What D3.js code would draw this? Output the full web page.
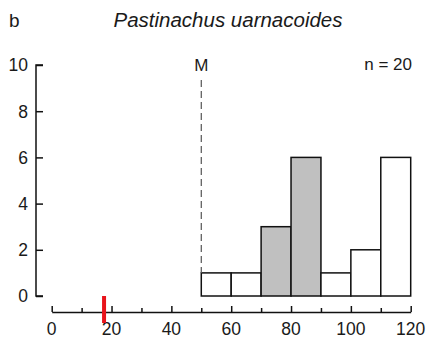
<!DOCTYPE html>
<html><head><meta charset="utf-8">
<script src="https://cdn.jsdelivr.net/npm/d3@7"></script>
<style>body{margin:0;background:#fff}svg{display:block}text{font-family:Arial,"Liberation Sans",sans-serif;fill:#1a1a1a}</style>
</head><body>
<script>
const binStarts = [50, 60, 70, 80, 90, 100, 110];
const counts = [1, 1, 3, 6, 1, 2, 6];
const shaded = [false, false, true, true, false, false, false];
const xTicks = [0, 20, 40, 60, 80, 100, 120];
const xMinorTicks = [10, 30, 50, 70, 90, 110];
const yTicks = [0, 2, 4, 6, 8, 10];
const maturity = 50;
const marker = 17.5;
const title = "Pastinachus uarnacoides";
const panel = "b";
const nLabel = "n = 20";

const W = 427, H = 340;
const svg = d3.select("body").append("svg").attr("width", W).attr("height", H);
const x = d3.scaleLinear().domain([0, 120]).range([51.7, 410.7]);
const y = d3.scaleLinear().domain([0, 10]).range([296, 65]);
const axisY = 312;

// bars
svg.selectAll("rect.bar").data(binStarts).join("rect")
  .attr("x", d => x(d)).attr("width", d => x(d + 10) - x(d))
  .attr("y", (d, i) => y(counts[i])).attr("height", (d, i) => y(0) - y(counts[i]))
  .attr("fill", (d, i) => shaded[i] ? "#c0c0c0" : "#fff")
  .attr("stroke", "#111").attr("stroke-width", 1.5);

// dashed M line
svg.append("line").attr("x1", x(maturity)).attr("x2", x(maturity))
  .attr("y1", 80).attr("y2", y(counts[0]))
  .attr("stroke", "#555").attr("stroke-width", 1.2).attr("stroke-dasharray", "7,4");
svg.append("text").attr("x", x(maturity)).attr("y", 71).attr("text-anchor", "middle")
  .style("font-size", "17px").text("M");

// y axis
const yAxis = d3.axisRight(y).tickValues(yTicks).tickSize(7).tickFormat("");
const gy = svg.append("g").attr("transform", "translate(36,0)").call(yAxis);
gy.select(".domain").attr("stroke", "#111").attr("stroke-width", 1.5).attr("d", `M7,${y(10)}H0V${y(0)}H7`);
gy.selectAll(".tick line").attr("stroke", "#111").attr("stroke-width", 1.5);
svg.selectAll("text.ylab").data(yTicks).join("text").attr("class", "ylab")
  .attr("x", 28).attr("y", d => y(d)).attr("dy", "0.36em").attr("text-anchor", "end")
  .style("font-size", "17.5px").text(d => d);

// x axis
const gx = svg.append("g").attr("transform", `translate(0,${axisY})`)
  .call(d3.axisTop(x).tickValues(xTicks).tickSize(6).tickSizeOuter(0).tickFormat(""));
gx.select(".domain").attr("stroke", "#111").attr("stroke-width", 1.5);
gx.selectAll(".tick line").attr("stroke", "#111").attr("stroke-width", 1.5);
const gx2 = svg.append("g").attr("transform", `translate(0,${axisY})`)
  .call(d3.axisTop(x).tickValues(xMinorTicks).tickSize(4).tickFormat(""));
gx2.select(".domain").remove();
gx2.selectAll(".tick line").attr("stroke", "#111").attr("stroke-width", 1.5);
svg.selectAll("text.xlab").data(xTicks).join("text").attr("class", "xlab")
  .attr("x", d => x(d)).attr("y", 335).attr("text-anchor", "middle")
  .style("font-size", "17.5px").text(d => d);

// red marker
svg.append("line").attr("x1", x(marker)).attr("x2", x(marker))
  .attr("y1", 296).attr("y2", 323).attr("stroke", "#e8141b").attr("stroke-width", 4);

// labels
svg.append("text").attr("x", 9).attr("y", 26.5).style("font-size", "19px").text(panel);
svg.append("text").attr("x", 228).attr("y", 27).attr("text-anchor", "middle")
  .style("font-size", "20.5px").style("font-style", "italic").text(title);
svg.append("text").attr("x", 412).attr("y", 70).attr("text-anchor", "end")
  .style("font-size", "17px").text(nLabel);
</script>
</body></html>
